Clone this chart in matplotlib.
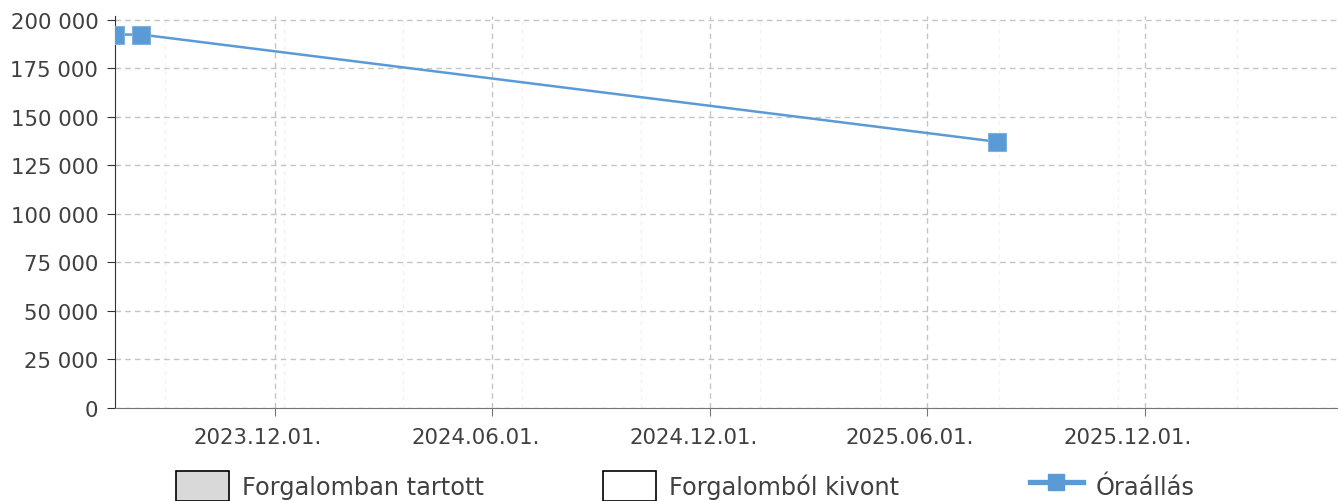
import datetime as dt

import matplotlib
matplotlib.use("Agg")
from matplotlib import pyplot as plt
import matplotlib.dates as mdates
import matplotlib.transforms as mtransforms
from matplotlib.patches import Patch
from matplotlib.lines import Line2D
from matplotlib.ticker import FuncFormatter, MultipleLocator

# data
dates = [dt.date(2023, 7, 20), dt.date(2023, 8, 11), dt.date(2025, 7, 30)]
readings = [192500, 192500, 137200]

x_ticks = [dt.date(2023, 12, 1), dt.date(2024, 6, 1), dt.date(2024, 12, 1),
           dt.date(2025, 6, 1), dt.date(2025, 12, 1)]
x_start = dt.date(2023, 7, 20)
x_end = dt.date(2026, 5, 12)
y_ticks = list(range(0, 200001, 25000))

legend_labels = ["Forgalomban tartott", "Forgalomból kivont", "Óraállás"]

blue = "#5b9bd5"
text_col = "#404040"

plt.rcParams["font.family"] = ["DejaVu Sans"]

fig = plt.figure(figsize=(13.38, 5.02), dpi=100)
ax = fig.add_axes([115 / 1338, 93 / 502, 1 - 115 / 1338, 392 / 502])

ax.plot(dates, readings, color=blue, linewidth=1.8, marker="s", markersize=13.5,
        markeredgecolor="#7fb1df", markeredgewidth=0.8, clip_on=True, zorder=3)

ax.set_xlim(x_start, x_end)
ax.set_ylim(0, 202060)

ax.set_xticks(x_ticks)
ax.xaxis.set_major_formatter(mdates.DateFormatter("%Y.%m.%d."))
ax.xaxis.set_minor_locator(MultipleLocator(100))
ax.set_yticks(y_ticks)
ax.yaxis.set_major_formatter(FuncFormatter(lambda v, p: f"{int(v):,}".replace(",", " ")))

ax.grid(True, which="major", linestyle=(0, (4, 3)), color="#c4c4c4", linewidth=1)
ax.grid(True, which="minor", axis="x", linestyle=(0, (3, 3)), color="#f3f3f3", linewidth=1)
ax.set_axisbelow(True)

for side in ["top", "right"]:
    ax.spines[side].set_visible(False)
ax.spines["left"].set_color("#333333")
ax.spines["bottom"].set_color("#777777")

ax.tick_params(axis="both", which="major", labelsize=15.3, colors=text_col, length=6)
ax.tick_params(axis="y", pad=6, color="#333333")
ax.tick_params(axis="x", pad=8, color="#777777")
ax.tick_params(axis="x", which="minor", length=0)

# x labels sit a bit left of their ticks in the original
shift = mtransforms.ScaledTranslation(-17 / 100, 0, fig.dpi_scale_trans)
for lbl in ax.get_xticklabels():
    lbl.set_transform(lbl.get_transform() + shift)

handles = [
    Patch(facecolor="#d9d9d9", edgecolor="black", linewidth=1.2),
    Patch(facecolor="white", edgecolor="black", linewidth=1.2),
    Line2D([0], [0], color=blue, linewidth=3.8, marker="s", markersize=11.5),
]
# one legend per entry so the columns keep the original's even spacing
legend_x = [176, 603, 1030]
for h, lab, lx in zip(handles, legend_labels, legend_x):
    fig.legend([h], [lab], loc="center left", bbox_to_anchor=(lx / 1338, 1 - 487 / 502),
               frameon=False, fontsize=17.3, labelcolor=text_col, borderpad=0, borderaxespad=0,
               handlelength=2.2, handleheight=1.6, handletextpad=0.55)

fig.savefig("out.png", dpi=100)
